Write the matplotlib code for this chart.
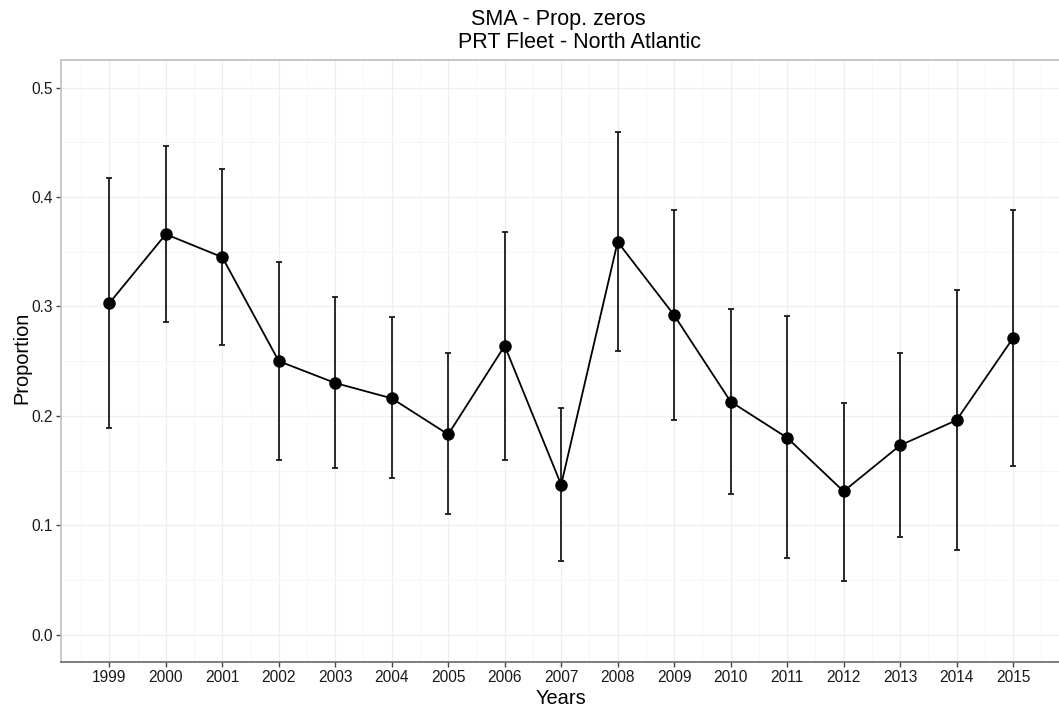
import numpy as np
import matplotlib
matplotlib.use("Agg")
import matplotlib.pyplot as plt
from matplotlib.ticker import MultipleLocator

plt.rcParams['font.family'] = ['Liberation Sans', 'DejaVu Sans']

# proportion of zero catches by year, with interval bounds
years = [1999, 2000, 2001, 2002, 2003, 2004, 2005, 2006, 2007,
         2008, 2009, 2010, 2011, 2012, 2013, 2014, 2015]
prop = [0.303, 0.366, 0.345, 0.250, 0.230, 0.216, 0.183, 0.264, 0.137,
        0.359, 0.292, 0.213, 0.180, 0.131, 0.173, 0.196, 0.271]
lower = [0.189, 0.286, 0.265, 0.160, 0.152, 0.143, 0.110, 0.160, 0.067,
         0.259, 0.196, 0.129, 0.070, 0.049, 0.089, 0.077, 0.154]
upper = [0.417, 0.447, 0.426, 0.341, 0.309, 0.290, 0.257, 0.368, 0.207,
         0.459, 0.388, 0.298, 0.291, 0.212, 0.257, 0.315, 0.388]

yrs = np.array(years)
p = np.array(prop)
yerr = np.array([p - np.array(lower), np.array(upper) - p])

W, H = 1059, 709
fig = plt.figure(figsize=(W / 100, H / 100), dpi=100)
ax = fig.add_axes([0.0579, 0.0663, 0.944, 0.8487])

ax.errorbar(yrs, p, yerr=yerr, fmt='none', ecolor='#1a1a1a',
            elinewidth=1.3, capsize=2.2, capthick=1.3, zorder=2)
ax.plot(yrs, p, color='black', lw=1.3, zorder=3)
ax.plot(yrs, p, 'o', color='black', ms=8, zorder=4)

ax.set_xlim(1998.15, 2015.85)
ax.set_ylim(-0.025, 0.525)
ax.set_xticks(years)
ax.set_xticklabels([str(y) for y in years])
ax.set_yticks([0.0, 0.1, 0.2, 0.3, 0.4, 0.5])
ax.set_yticklabels(['0.0', '0.1', '0.2', '0.3', '0.4', '0.5'])
ax.xaxis.set_minor_locator(MultipleLocator(0.5))
ax.yaxis.set_minor_locator(MultipleLocator(0.05))

ax.grid(which='major', color='#efefef', lw=0.9, zorder=0)
ax.grid(which='minor', color='#f5f5f5', lw=0.6, zorder=0)
ax.set_axisbelow(True)

ax.tick_params(which='major', length=3.5, width=1, color='#444444',
               labelsize=11.2, labelcolor='#1a1a1a', pad=2.5)
ax.tick_params(which='minor', length=0)

for side in ['left', 'top']:
    ax.spines[side].set_color('#bfbfbf')
    ax.spines[side].set_linewidth(1.2)
ax.spines['bottom'].set_color('#666666')
ax.spines['bottom'].set_linewidth(1.2)
ax.spines['right'].set_visible(False)

# axis titles and two-line header
fig.text(561 / W, 1 - 704.3 / H, 'Years', fontsize=14.4,
         ha='center', va='baseline')
fig.text(12 / W, 1 - 358 / H, 'Proportion', fontsize=14.4,
         rotation=90, ha='left', va='center')
fig.text(558 / W, 1 - 25 / H, 'SMA - Prop. zeros', fontsize=15.5,
         ha='center', va='baseline')
fig.text(579 / W, 1 - 47.7 / H, 'PRT Fleet - North Atlantic', fontsize=15.5,
         ha='center', va='baseline')

fig.savefig('out.png', dpi=100)
